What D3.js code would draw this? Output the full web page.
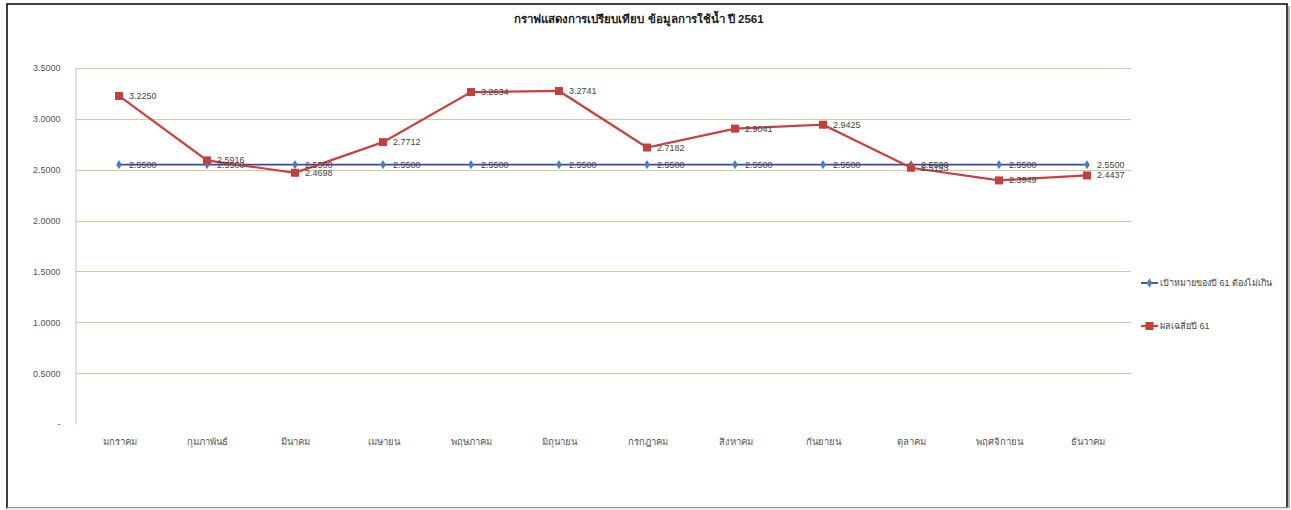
<!DOCTYPE html>
<html>
<head>
<meta charset="utf-8">
<script src="https://cdn.jsdelivr.net/npm/d3@7"></script>
<style>
  body { margin: 0; background: #fff; }
  text { font-family: "Liberation Sans", Arial, sans-serif; }
</style>
</head>
<body>
<div class="chart-container"></div>
<script>
const months = ["มกราคม", "กุมภาพันธ์", "มีนาคม", "เมษายน", "พฤษภาคม", "มิถุนายน",
  "กรกฎาคม", "สิงหาคม", "กันยายน", "ตุลาคม", "พฤศจิกายน", "ธันวาคม"];
const target61 = [2.55, 2.55, 2.55, 2.55, 2.55, 2.55, 2.55, 2.55, 2.55, 2.55, 2.55, 2.55];
const avg61 = [3.2250, 2.5916, 2.4698, 2.7712, 3.2634, 3.2741, 2.7182, 2.9041, 2.9425, 2.5193, 2.3949, 2.4437];
const yTicks = [0, 0.5, 1.0, 1.5, 2.0, 2.5, 3.0, 3.5];
const seriesNames = ["เป้าหมายของปี 61 ต้องไม่เกิน", "ผลเฉลี่ยปี 61"];
const chartTitle = "กราฟแสดงการเปรียบเทียบ ข้อมูลการใช้น้ำ ปี 2561";

const W = 1291, H = 510;
const plot = { left: 75, right: 1131, top: 68, bottom: 424 };

const svg = d3.select(".chart-container")
  .append("svg")
  .attr("width", W)
  .attr("height", H);

// frame
svg.append("rect")
  .attr("x", 7).attr("y", 4)
  .attr("width", 1280).attr("height", 504)
  .attr("fill", "#fff")
  .attr("stroke", "#111")
  .attr("stroke-width", 1.6);
svg.append("line")
  .attr("x1", 1289).attr("x2", 1289).attr("y1", 6).attr("y2", 508)
  .attr("stroke", "#999").attr("stroke-width", 1.5);
svg.append("line")
  .attr("x1", 7).attr("x2", 1288).attr("y1", 508.5).attr("y2", 508.5)
  .attr("stroke", "#e4e4e0").attr("stroke-width", 2);

svg.append("text")
  .attr("x", 639).attr("y", 23)
  .attr("text-anchor", "middle")
  .style("font-size", "11.5px")
  .style("font-weight", "bold")
  .attr("fill", "#1a1a1a")
  .text(chartTitle);

var x = d3.scalePoint().domain(months).range([plot.left, plot.right]).padding(0.5);
var y = d3.scaleLinear().domain([0, 3.5]).range([plot.bottom, plot.top]);

// gridlines
svg.append("g")
  .selectAll("line")
  .data(yTicks.filter(d => d > 0))
  .join("line")
  .attr("x1", plot.left).attr("x2", plot.right)
  .attr("y1", d => Math.round(y(d)) + 0.5).attr("y2", d => Math.round(y(d)) + 0.5)
  .attr("stroke", "#cfc8aa")
  .attr("stroke-width", 1.2);

// y axis
var yAxis = d3.axisLeft(y)
  .tickValues(yTicks)
  .tickSize(0)
  .tickPadding(15)
  .tickFormat(d => d === 0 ? "-  " : d3.format(".4f")(d));
var gy = svg.append("g")
  .attr("transform", "translate(" + (plot.left + 0.5) + ",0)")
  .call(yAxis);
gy.select(".domain").attr("stroke", "#d3cfbc").attr("stroke-width", 1.2);
gy.selectAll("text")
  .attr("fill", "#555")
  .style("font-size", "9px")
  .style("font-family", "Liberation Sans, Arial, sans-serif");

// x axis labels
var xAxis = d3.axisBottom(x).tickSize(0).tickPadding(14);
var gx = svg.append("g")
  .attr("transform", "translate(0," + plot.bottom + ")")
  .call(xAxis);
gx.select(".domain").remove();
gx.selectAll("text")
  .attr("fill", "#555")
  .style("font-size", "9.5px")
  .style("font-family", "Liberation Sans, Arial, sans-serif");

var line = d3.line()
  .x((d, i) => x(months[i]))
  .y(d => y(d));

// target series
svg.append("path")
  .datum(target61)
  .attr("d", line)
  .attr("fill", "none")
  .attr("stroke", "#39499c")
  .attr("stroke-width", 1.8);

// average series
svg.append("path")
  .datum(avg61)
  .attr("d", line)
  .attr("fill", "none")
  .attr("stroke", "#c8413f")
  .attr("stroke-width", 2.2);

var diamond = d3.symbol().type(d3.symbolDiamond).size(26);
svg.append("g")
  .selectAll("path")
  .data(target61)
  .join("path")
  .attr("d", diamond)
  .attr("transform", (d, i) => "translate(" + x(months[i]) + "," + y(d) + ")")
  .attr("fill", "#4a7ebb");

svg.append("g")
  .selectAll("rect")
  .data(avg61)
  .join("rect")
  .attr("x", (d, i) => x(months[i]) - 4)
  .attr("y", d => y(d) - 4)
  .attr("width", 8).attr("height", 8)
  .attr("fill", "#c0403e");

// data labels (they overlap where the series cross, as in the original)
function addLabels(data) {
  svg.append("g")
    .selectAll("text")
    .data(data)
    .join("text")
    .attr("x", (d, i) => x(months[i]) + 10)
    .attr("y", d => y(d) + 3)
    .attr("fill", "#444")
    .style("font-size", "9px")
    .text(d => d3.format(".4f")(d));
}
addLabels(target61);
addLabels(avg61);

// legend
var legend = svg.append("g").attr("transform", "translate(1141,0)");
legend.append("line")
  .attr("x1", 0).attr("x2", 17).attr("y1", 283).attr("y2", 283)
  .attr("stroke", "#39499c").attr("stroke-width", 1.8);
legend.append("path")
  .attr("d", diamond)
  .attr("transform", "translate(8.5,283)")
  .attr("fill", "#4a7ebb");
legend.append("text")
  .attr("x", 19).attr("y", 286)
  .attr("fill", "#444")
  .style("font-size", "9px")
  .text(seriesNames[0]);
legend.append("line")
  .attr("x1", 0).attr("x2", 17).attr("y1", 326).attr("y2", 326)
  .attr("stroke", "#c8413f").attr("stroke-width", 2.2);
legend.append("rect")
  .attr("x", 4.5).attr("y", 322).attr("width", 8).attr("height", 8)
  .attr("fill", "#c0403e");
legend.append("text")
  .attr("x", 19).attr("y", 329)
  .attr("fill", "#444")
  .style("font-size", "9px")
  .text(seriesNames[1]);
</script>
</body>
</html>
